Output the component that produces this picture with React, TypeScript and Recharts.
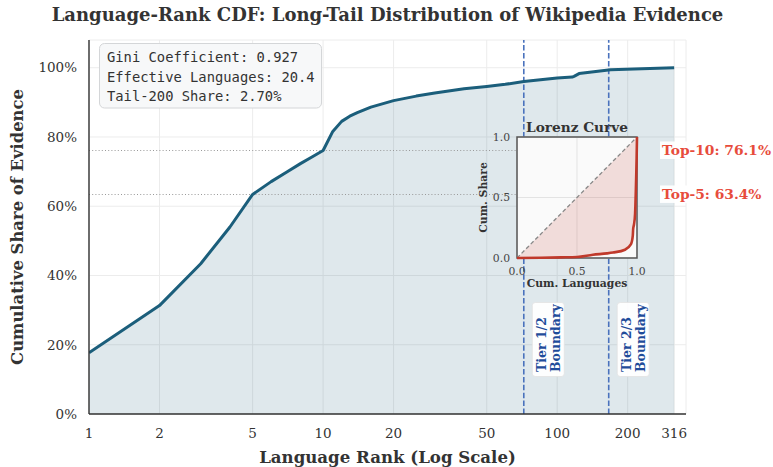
import React from 'react';
import {
  ComposedChart,
  Area,
  Line,
  XAxis,
  YAxis,
  CartesianGrid,
  ReferenceLine,
  ReferenceArea,
} from 'recharts';

// ---------- data ----------
const ranks = [1, 2, 3, 4, 5, 6, 7, 8, 9, 10, 11, 12, 13, 14, 16, 20, 25, 30, 40, 50, 60, 72, 100, 116, 118, 124, 169, 230, 316];
const cdfShare = [0.177, 0.313, 0.434, 0.54, 0.634, 0.671, 0.699, 0.723, 0.743, 0.761, 0.816, 0.845, 0.86, 0.87, 0.886, 0.905, 0.918, 0.927, 0.939, 0.946, 0.952, 0.96, 0.97, 0.973, 0.975, 0.983, 0.994, 0.997, 1.0];
const xTicks = [1, 2, 5, 10, 20, 50, 100, 200, 316];
const yTicks = [0, 0.2, 0.4, 0.6, 0.8, 1.0];
const tierBoundaries = [72, 166];
const tierNames = ['Tier 1/2', 'Tier 2/3'];
const topValues = [0.761, 0.634];
const topLabels = ['Top-10: 76.1%', 'Top-5: 63.4%'];
const topGuideEnd = 68;
const statsLines = ['Gini Coefficient: 0.927', 'Effective Languages: 20.4', 'Tail-200 Share: 2.70%'];

const lorenzFrac = [0, 0.2, 0.367, 0.5, 0.633, 0.75, 0.8, 0.9, 0.95, 0.965, 0.968, 0.975, 0.984, 0.9905, 0.9937, 0.9968, 1];
const lorenzShare = [0, 0.002, 0.005, 0.008, 0.027, 0.038, 0.045, 0.068, 0.114, 0.184, 0.239, 0.277, 0.366, 0.566, 0.687, 0.823, 1];
const insetTicks = [0, 0.5, 1];

const mainData = ranks.map((r, i) => ({ rank: r, cdf: cdfShare[i] }));
const lorenzData = lorenzFrac.map((f, i) => ({ frac: f, share: lorenzShare[i] }));

// ---------- style ----------
const SERIF = "'DejaVu Serif', serif";
const MONO = "'DejaVu Sans Mono', monospace";
const LINE_COLOR = '#1b5e7b';
const TIER_LINE = '#4a72bd';
const TIER_TEXT = '#1f4c9a';
const RED = '#e74c3c';
const LORENZ = '#c0392b';

const makeTierLabel = (name: string) => (props: any) => {
  const vb = props.viewBox || {};
  const L = vb.x;
  const bottom = vb.y + vb.height;
  const startY = bottom - 42;
  return (
    <g>
      <rect x={L + 8.5} y={bottom - 111.5} width={32} height={74} rx={3} fill="#ffffff" fillOpacity={0.92} stroke="#e2e2e2" strokeWidth={0.8} />
      <text
        transform={`rotate(-90 ${L} ${startY})`}
        x={L}
        y={startY}
        fontFamily={SERIF}
        fontWeight="bold"
        fontSize={12.5}
        fill={TIER_TEXT}
        textAnchor="start"
      >
        <tspan x={L} y={startY + 22.3}>{name}</tspan>
        <tspan x={L} y={startY + 35.8}>Boundary</tspan>
      </text>
    </g>
  );
};

const makeTopLabel = (text: string) => (props: any) => {
  const vb = props.viewBox || {};
  const x = vb.x + vb.width - 24;
  const y = vb.y;
  return (
    <g>
      <rect x={x - 2} y={y - 9} width={114} height={17.5} fill="#ffffff" fillOpacity={0.92} />
      <text x={x} y={y} dy="0.36em" fontFamily={SERIF} fontWeight="bold" fontSize={13.8} fill={RED}>
        {text}
      </text>
    </g>
  );
};

const XLabel = (props: any) => {
  const vb = props.viewBox || {};
  return (
    <text x={vb.x + vb.width / 2} y={vb.y + 49} textAnchor="middle" fontFamily={SERIF} fontWeight="bold" fontSize={16.6} fill="#333">
      Language Rank (Log Scale)
    </text>
  );
};

const YLabel = (props: any) => {
  const vb = props.viewBox || {};
  const cx = 23;
  const cy = vb.y + vb.height / 2;
  return (
    <text transform={`rotate(-90 ${cx} ${cy})`} x={cx} y={cy} textAnchor="middle" fontFamily={SERIF} fontWeight="bold" fontSize={16.4} fill="#333">
      Cumulative Share of Evidence
    </text>
  );
};

const InsetXLabel = (props: any) => {
  const vb = props.viewBox || {};
  return (
    <text x={vb.x + vb.width / 2} y={vb.y + 28.5} textAnchor="middle" fontFamily={SERIF} fontWeight="bold" fontSize={10.8} fill="#333">
      Cum. Languages
    </text>
  );
};

const InsetYLabel = (props: any) => {
  const vb = props.viewBox || {};
  const cx = 26.5;
  const cy = vb.y + vb.height / 2;
  return (
    <text transform={`rotate(-90 ${cx} ${cy})`} x={cx} y={cy} textAnchor="middle" fontFamily={SERIF} fontWeight="bold" fontSize={10.8} fill="#333">
      Cum. Share
    </text>
  );
};

const pct = (v: number) => `${Math.round(v * 100)}%`;

export default function App() {
  return (
    <div style={{ position: 'absolute', left: 0, top: 0, width: 773, height: 467, background: '#ffffff' }}>
      <ComposedChart width={773} height={467} data={mainData} margin={{ top: 40, right: 87, bottom: 0, left: 0 }}>
        <CartesianGrid stroke="#ececec" strokeWidth={1} />
        <XAxis
          dataKey="rank"
          type="number"
          scale="log"
          domain={[1, 355]}
          allowDataOverflow
          ticks={xTicks}
          interval={0}
          height={53}
          tickLine={false}
          tickSize={0}
          tickMargin={14}
          axisLine={{ stroke: '#333', strokeWidth: 1.4 }}
          tick={{ fill: '#333', fontSize: 13.5, fontFamily: SERIF }}
          label={XLabel}
        />
        <YAxis
          type="number"
          domain={[0, 1.08]}
          allowDataOverflow
          ticks={yTicks}
          interval={0}
          width={89}
          tickLine={false}
          tickSize={0}
          tickMargin={12}
          tickFormatter={pct}
          axisLine={{ stroke: '#333', strokeWidth: 1.4 }}
          tick={{ fill: '#333', fontSize: 13.5, fontFamily: SERIF }}
          label={YLabel}
        />
        <Area type="linear" dataKey="cdf" stroke="none" fill={LINE_COLOR} fillOpacity={0.14} isAnimationActive={false} />
        {topValues.map((v, i) => (
          <ReferenceLine
            key={`g${i}`}
            segment={[{ x: 1, y: v }, { x: topGuideEnd, y: v }]}
            stroke="#999"
            strokeWidth={1.1}
            strokeDasharray="1 2.2"
          />
        ))}
        {tierBoundaries.map((b, i) => (
          <ReferenceLine key={`t${i}`} x={b} stroke={TIER_LINE} strokeWidth={1.6} strokeDasharray="5.5 2.4" label={makeTierLabel(tierNames[i])} />
        ))}
        <Line type="linear" dataKey="cdf" stroke={LINE_COLOR} strokeWidth={3} dot={false} strokeLinejoin="round" isAnimationActive={false} />
        {topValues.map((v, i) => (
          <ReferenceLine key={`l${i}`} y={v} stroke="none" strokeOpacity={0} label={makeTopLabel(topLabels[i])} />
        ))}
      </ComposedChart>

      {/* title and stats box */}
      <svg width={773} height={467} style={{ position: 'absolute', left: 0, top: 0, pointerEvents: 'none' }}>
        <text x={387.5} y={21} textAnchor="middle" fontFamily={SERIF} fontWeight="bold" fontSize={18} fill="#333">
          Language-Rank CDF: Long-Tail Distribution of Wikipedia Evidence
        </text>
        <rect x={99.5} y={43.5} width={222} height={64.5} rx={5} fill="#f7f8f9" fillOpacity={0.95} stroke="#d4d6d8" strokeWidth={1} />
        {statsLines.map((s, i) => (
          <text key={i} x={107} y={62.3 + i * 19.2} fontFamily={MONO} fontSize={13.8} fill="#333">
            {s}
          </text>
        ))}
      </svg>

      {/* inset Lorenz curve */}
      <div style={{ position: 'absolute', left: 460, top: 115, width: 190, height: 180 }}>
        <ComposedChart width={190} height={180} data={lorenzData} margin={{ top: 22, right: 13, bottom: 0, left: 0 }}>
          <CartesianGrid stroke="#e3e3e3" strokeWidth={1} fill="#fafafa" fillOpacity={1} />
          <XAxis
            dataKey="frac"
            type="number"
            domain={[0, 1]}
            ticks={insetTicks}
            interval={0}
            height={37}
            tickLine={false}
            tickSize={0}
            tickMargin={9}
            axisLine={false}
            tickFormatter={(v: number) => v.toFixed(1)}
            tick={{ fill: '#444', fontSize: 10.8, fontFamily: SERIF }}
            label={InsetXLabel}
          />
          <YAxis
            type="number"
            domain={[0, 1]}
            ticks={insetTicks}
            interval={0}
            width={57}
            tickLine={false}
            tickSize={0}
            tickMargin={7}
            axisLine={false}
            tickFormatter={(v: number) => v.toFixed(1)}
            tick={{ fill: '#444', fontSize: 10.8, fontFamily: SERIF }}
            label={InsetYLabel}
          />
          <Area
            type="monotone"
            dataKey={(d: any) => [d.share, d.frac]}
            stroke="none"
            fill={LORENZ}
            fillOpacity={0.15}
            isAnimationActive={false}
          />
          <ReferenceLine segment={[{ x: 0, y: 0 }, { x: 1, y: 1 }]} stroke="#888" strokeWidth={1.3} strokeDasharray="4 2.5" />
          <Line type="monotone" dataKey="share" stroke={LORENZ} strokeWidth={2.6} dot={false} isAnimationActive={false} />
          <ReferenceArea x1={0} x2={1} y1={0} y2={1} fill="none" fillOpacity={0} stroke="#555" strokeWidth={1.5} />
        </ComposedChart>
        <svg width={190} height={30} style={{ position: 'absolute', left: 0, top: 0, pointerEvents: 'none' }}>
          <text x={117} y={17} textAnchor="middle" fontFamily={SERIF} fontWeight="bold" fontSize={13.7} fill="#333">
            Lorenz Curve
          </text>
        </svg>
      </div>
    </div>
  );
}
